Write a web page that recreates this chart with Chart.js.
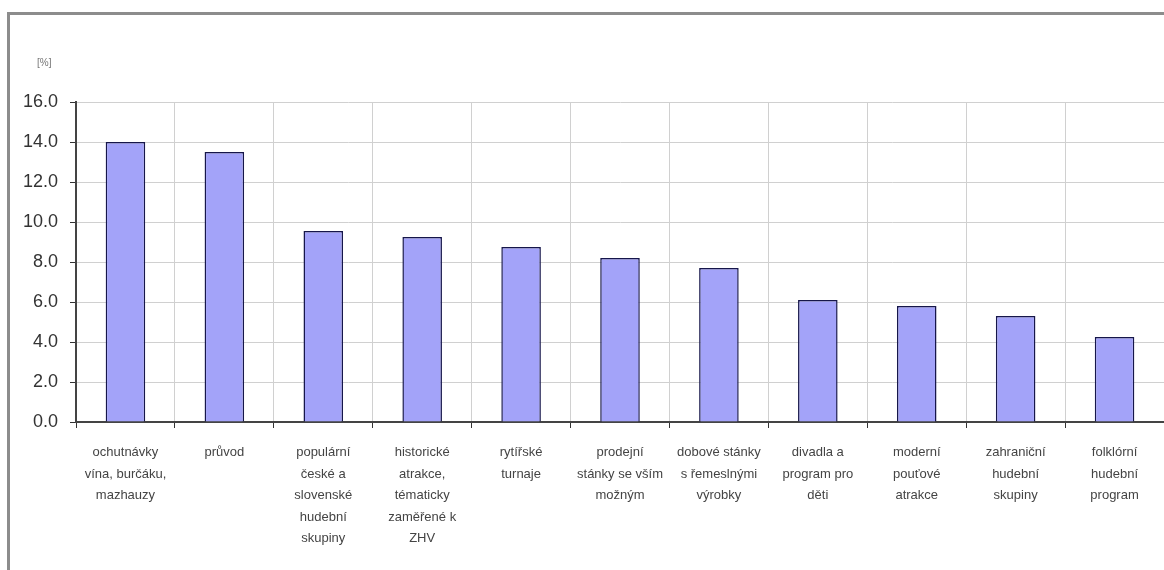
<!DOCTYPE html>
<html>
<head>
<meta charset="utf-8">
<script src="https://cdn.jsdelivr.net/npm/chart.js@4"></script>
<style>
  html, body { margin: 0; padding: 0; background: #fff; }
  body { width: 1164px; height: 570px; position: relative; overflow: hidden; }
  .frame {
    position: absolute; left: 7px; top: 12px; right: -10px; bottom: -10px;
    border-left: 3px solid #8c8c8c; border-top: 3px solid #8c8c8c;
  }
  #wrap { position: absolute; left: 0; top: 0; width: 1164px; height: 570px; }
</style>
</head>
<body>
<div class="frame"></div>
<div id="wrap"><canvas id="myChart"></canvas></div>
<script>
const categories = [
  ['ochutnávky', 'vína, burčáku,', 'mazhauzy'],
  ['průvod'],
  ['populární', 'české a', 'slovenské', 'hudební', 'skupiny'],
  ['historické', 'atrakce,', 'tématicky', 'zaměřené k', 'ZHV'],
  ['rytířské', 'turnaje'],
  ['prodejní', 'stánky se vším', 'možným'],
  ['dobové stánky', 's řemeslnými', 'výrobky'],
  ['divadla a', 'program pro', 'děti'],
  ['moderní', 'pouťové', 'atrakce'],
  ['zahraniční', 'hudební', 'skupiny'],
  ['folklórní', 'hudební', 'program']
];
const shares = [14.0, 13.5, 9.55, 9.25, 8.75, 8.2, 7.7, 6.1, 5.8, 5.3, 4.25];
const yTicks = [0, 2, 4, 6, 8, 10, 12, 14, 16];
const unitLabel = '[%]';

const sans = '"Liberation Sans", Arial, sans-serif';

const unitPlugin = {
  id: 'unitLabel',
  afterDraw(chart) {
    const ctx = chart.ctx;
    ctx.save();
    ctx.font = '10px ' + sans;
    ctx.fillStyle = '#777';
    ctx.textBaseline = 'middle';
    ctx.fillText(unitLabel, 37, 63);
    ctx.restore();
  }
};

const initChart = () => {
  const ctx = document.getElementById('myChart');

  new Chart(ctx, {
    type: 'bar',
    data: {
      labels: categories,
      datasets: [{
        data: shares,
        backgroundColor: '#a3a3f9',
        borderColor: '#16164a',
        borderWidth: 1.5,
        barPercentage: 0.4,
        categoryPercentage: 1.0
      }]
    },
    options: {
      responsive: true,
      maintainAspectRatio: false,
      animation: false,
      layout: { padding: { top: 102, left: 0, right: 0, bottom: 0 } },
      plugins: { legend: { display: false }, tooltip: { enabled: false } },
      scales: {
        x: {
          grid: { offset: true, color: '#d0d0d0', tickColor: '#333', tickLength: 6, lineWidth: 1 },
          border: { color: '#444', width: 2 },
          ticks: {
            autoSkip: false, maxRotation: 0, minRotation: 0,
            color: '#444', padding: 14,
            font: { family: sans, size: 13, lineHeight: 1.65 }
          },
          afterFit: (scale) => { scale.height = 148; }
        },
        y: {
          min: 0, max: 16,
          afterBuildTicks: (scale) => { scale.ticks = yTicks.map(v => ({ value: v })); },
          grid: { color: '#d0d0d0', tickColor: '#333', tickLength: 6 },
          border: { color: '#444', width: 2 },
          ticks: {
            color: '#333', padding: 12,
            font: { family: sans, size: 18 },
            callback: (v) => Number(v).toFixed(1)
          },
          afterFit: (scale) => { scale.width = 76; }
        }
      }
    },
    plugins: [unitPlugin]
  });
};

initChart();
</script>
</body>
</html>
